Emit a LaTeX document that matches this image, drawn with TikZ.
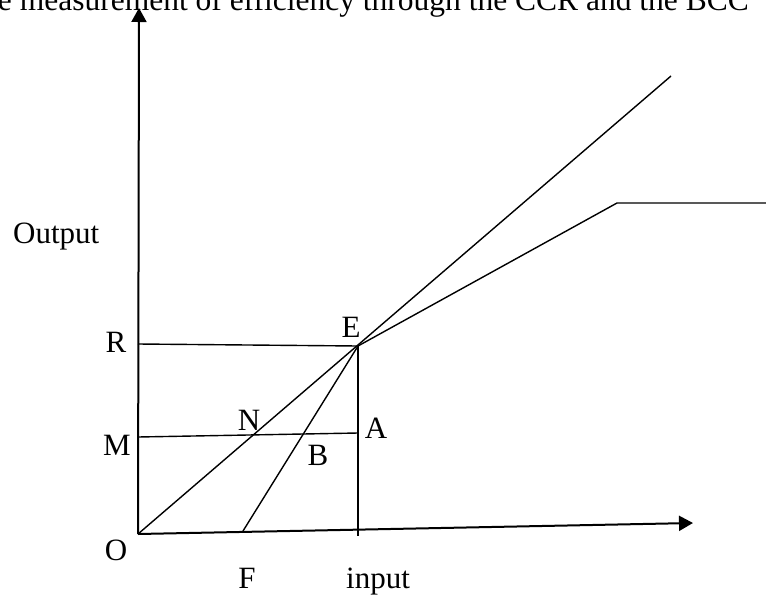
\documentclass[tikz,border=0pt]{standalone}
\usepackage{fontspec}
\setmainfont{Liberation Serif}
\usetikzlibrary{arrows.meta}
\begin{document}
\begin{tikzpicture}[x=1pt,y=-1pt,
  lbl/.style={inner sep=0pt, anchor=base, font=\fontsize{31}{36}\selectfont},
  ttl/.style={inner sep=0pt, anchor=base west, font=\fontsize{31.5}{36}\selectfont},
  ln/.style={line width=1.4pt},
  axis/.style={line width=2pt, -{Triangle[length=14pt,width=15pt]}}]
\useasboundingbox (0,0) rectangle (766,595);
\clip (0,0) rectangle (766,595);
% title (cut at the picture's edges as in the reference)
\node[ttl] (title) at (-18,10) {he measurement of efficiency through the CCR and the BCC};
% points
\coordinate (O) at (138,534);
\coordinate (Ytop) at (139,8);
\coordinate (Xend) at (693,523);
\coordinate (E) at (358,346);
\coordinate (F) at (243,531);
\coordinate (R) at (138,344);
\coordinate (M) at (138,437);
\coordinate (A) at (358,433);
\coordinate (Ebot) at (358,536);
\coordinate (C) at (671,76);
\coordinate (K) at (617,203);
\coordinate (Kend) at (770,203);
% axes
\draw[axis] (O) -- (Ytop);
\draw[axis] (O) -- (Xend);
% lines
\draw[ln] (R) -- (E);
\draw[ln] (M) -- (A);
\draw[ln] (E) -- (Ebot);
\draw[ln] (O) -- (C);
\draw[ln] (F) -- (E) -- (K) -- (Kend);
% labels
\node[lbl, anchor=base west] (lOut) at (13,243) {Output};
\node[lbl] (lR) at (116,352) {R};
\node[lbl] (lM) at (117,455) {M};
\node[lbl] (lO) at (116,560) {O};
\node[lbl] (lE) at (351,337) {E};
\node[lbl] (lN) at (249,430) {N};
\node[lbl] (lA) at (376,438) {A};
\node[lbl] (lB) at (318,465) {B};
\node[lbl] (lF) at (247,588) {F};
\node[lbl] (lin) at (378,588) {input};
\end{tikzpicture}
\end{document}
